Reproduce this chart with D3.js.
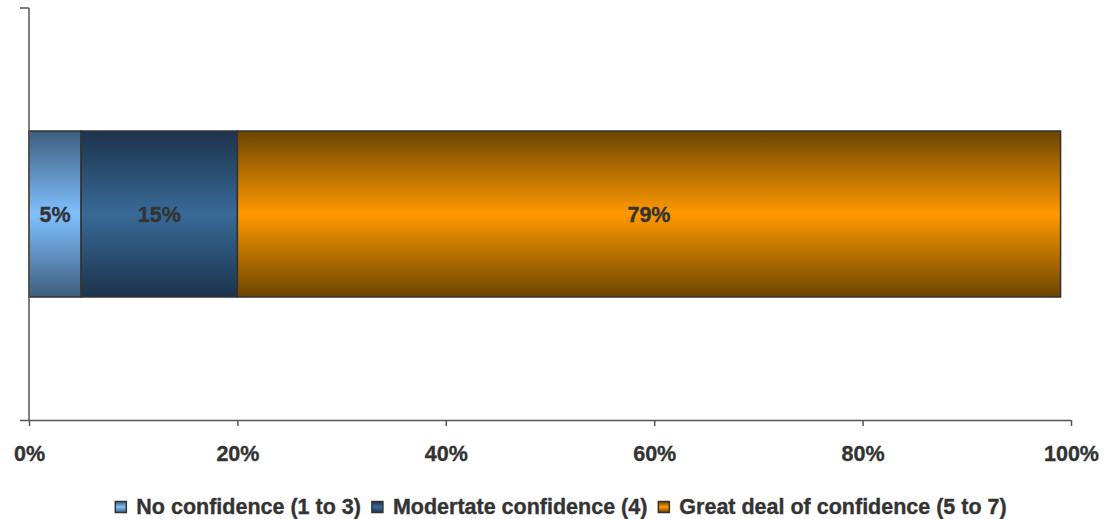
<!DOCTYPE html>
<html>
<head>
<meta charset="utf-8">
<script src="https://cdn.jsdelivr.net/npm/d3@7/dist/d3.min.js"></script>
<style>
  html, body { margin: 0; padding: 0; background: #fff; }
  svg { display: block; }
  text { font-family: "Liberation Sans", Arial, sans-serif; font-weight: bold; fill: #333; stroke: #333; stroke-width: 0.35px; }
</style>
</head>
<body>
<svg id="chart" width="1114" height="519"></svg>
<script>
// Confidence ratings, share of respondents (%)
const categories = ["Confidence"];
const seriesNames = ["No confidence (1 to 3)", "Modertate confidence (4)", "Great deal of confidence (5 to 7)"];
const seriesValues = [5, 15, 79];
const tickValues = [0, 20, 40, 60, 80, 100];
const tickLabels = ["0%", "20%", "40%", "60%", "80%", "100%"];

// Gradient colours per series: edge shade and centre highlight
const edgeColors = ["#3d5e7e", "#1d334c", "#6c4500"];
const midColors = ["#80c0ff", "#386a98", "#ff9900"];

const svg = d3.select("#chart");
const defs = svg.append("defs");

seriesNames.forEach((name, i) => {
  const g = defs.append("linearGradient")
    .attr("id", "grad" + i)
    .attr("x1", 0).attr("y1", 0).attr("x2", 0).attr("y2", 1);
  g.append("stop").attr("offset", "0%").attr("stop-color", edgeColors[i]);
  g.append("stop").attr("offset", "50%").attr("stop-color", midColors[i]);
  g.append("stop").attr("offset", "100%").attr("stop-color", edgeColors[i]);
});

const x = d3.scaleLinear().domain([0, 100]).range([29, 1071]);
const y = d3.scaleBand().domain(categories).range([8, 420]).paddingInner(0).paddingOuter(0.741);

// Stacked segments
let acc = 0;
const segments = seriesValues.map((v, i) => {
  const s = { i, v, x0: acc, x1: acc + v };
  acc += v;
  return s;
});

const barG = svg.append("g");
barG.selectAll("rect")
  .data(segments)
  .join("rect")
  .attr("x", d => x(d.x0))
  .attr("y", y(categories[0]))
  .attr("width", d => x(d.x1) - x(d.x0))
  .attr("height", y.bandwidth())
  .attr("fill", d => "url(#grad" + d.i + ")")
  .attr("stroke", "#333")
  .attr("stroke-width", 1.5);

barG.selectAll("text")
  .data(segments)
  .join("text")
  .attr("x", d => x((d.x0 + d.x1) / 2))
  .attr("y", y(categories[0]) + y.bandwidth() / 2 + 8)
  .attr("text-anchor", "middle")
  .style("font-size", "21.5px")
  .text(d => d.v + "%");

// Horizontal value axis
const xAxis = d3.axisBottom(x)
  .tickValues(tickValues)
  .tickFormat((d, i) => tickLabels[i])
  .tickSizeInner(6)
  .tickSizeOuter(0)
  .tickPadding(20);

const xg = svg.append("g").attr("transform", "translate(0,420)").call(xAxis);
xg.select(".domain").remove();
xg.append("line")
  .attr("x1", 20).attr("x2", x(100)).attr("y1", 0.5).attr("y2", 0.5)
  .attr("stroke", "#555").attr("stroke-width", 1.5);
xg.selectAll(".tick line").attr("stroke", "#555").attr("stroke-width", 1.5);
xg.selectAll(".tick text")
  .style("font-size", "21.5px")
  .style("font-family", "'Liberation Sans', Arial, sans-serif")
  .style("font-weight", "bold")
  .attr("fill", "#333");

// Vertical category axis
const yg = svg.append("g");
yg.append("line")
  .attr("x1", 29).attr("x2", 29).attr("y1", 8).attr("y2", 420)
  .attr("stroke", "#555").attr("stroke-width", 1.5);
yg.append("line")
  .attr("x1", 20).attr("x2", 29).attr("y1", 8).attr("y2", 8)
  .attr("stroke", "#555").attr("stroke-width", 1.5);

// Legend
const legend = svg.append("g");
const items = legend.selectAll("g")
  .data(seriesNames)
  .join("g");
items.append("rect")
  .attr("width", 11).attr("height", 11)
  .attr("y", 501.5)
  .attr("fill", (d, i) => "url(#grad" + i + ")")
  .attr("stroke", "#333")
  .attr("stroke-width", 1.5);
items.append("text")
  .attr("x", 21)
  .attr("y", 514)
  .style("font-size", "21.5px")
  .text(d => d);

let lx = 0;
const offsets = [];
items.each(function(d, i) {
  offsets.push(lx);
  lx += 21 + this.querySelector("text").getComputedTextLength() + 11;
});
const totalW = lx - 11;
const startX = 561 - totalW / 2;
items.attr("transform", (d, i) => "translate(" + (startX + offsets[i]) + ",0)");
</script>
</body>
</html>
